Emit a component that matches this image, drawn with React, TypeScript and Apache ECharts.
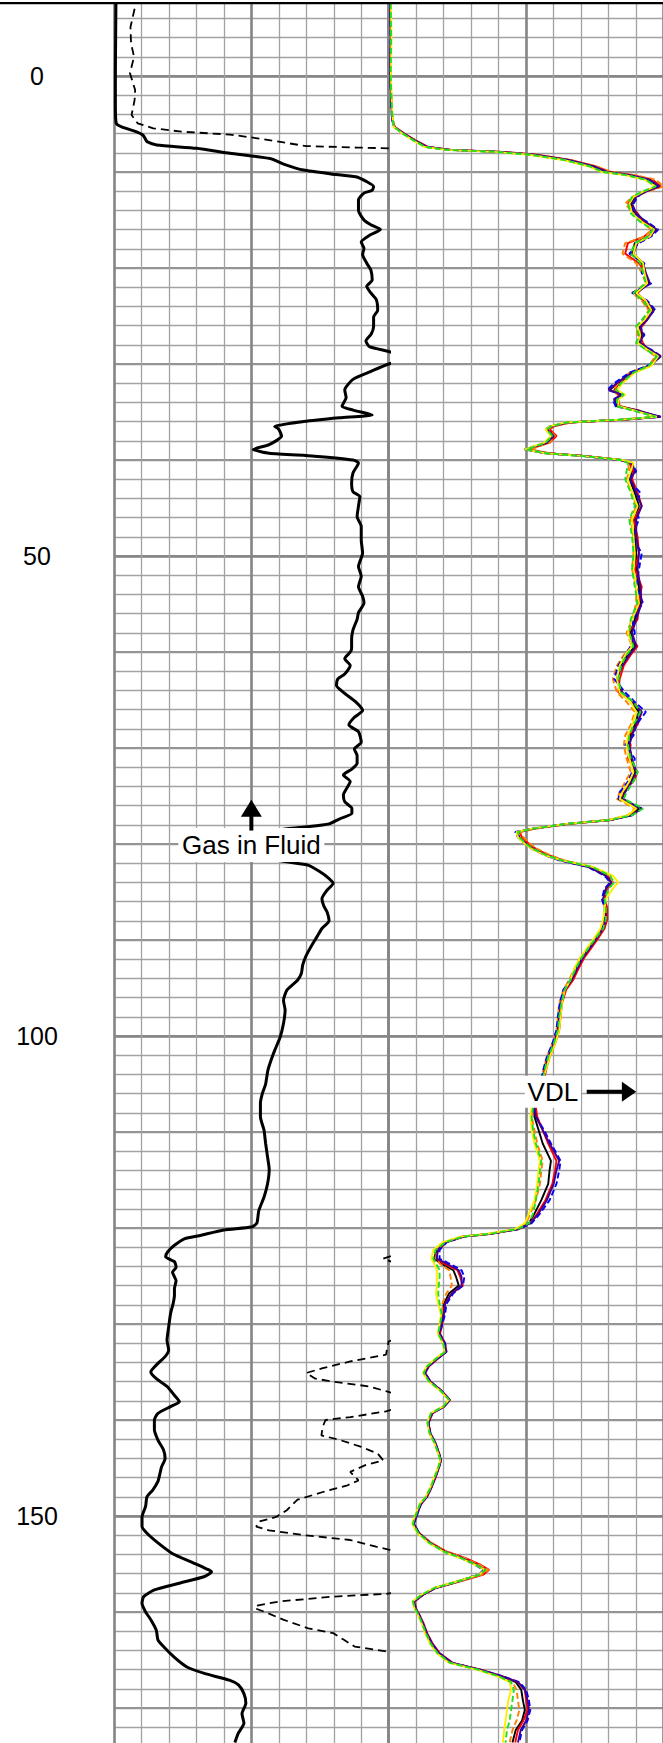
import React, { useEffect, useRef } from "react";
import * as echarts from "echarts";

const W = 663;
const H = 1743;
const FONT = "'Liberation Sans', Arial, Helvetica, sans-serif";

// Depth scale labels shown at the left
const depthLabels = [0, 50, 100, 150];

// Left track, solid curve: [depth, value (0-10 divisions)]
const solidLog: [number, number][] = [
  [-7.6, 0.07], [-4, 0.06], [0, 0.05], [3, 0.05], [4.9, 0.08], [5.3, 0.28], [5.8, 0.8], [6.15, 1.05],
  [6.6, 1.15], [6.84, 1.2], [7.19, 1.55], [7.53, 3.0], [8.05, 4.22], [8.6, 5.68], [9.2, 6.2], [9.8, 6.9],
  [10.2, 7.9], [10.5, 8.8], [11.0, 9.2], [11.5, 9.45], [11.9, 9.4], [12.2, 9.1], [12.9, 8.9], [14.0, 8.9],
  [15.0, 9.1], [15.5, 9.35], [16.0, 9.7], [16.6, 9.3], [17.3, 9.0], [17.95, 9.1], [18.6, 9.05], [19.5, 9.2],
  [20.2, 9.35], [21.25, 9.4], [21.9, 9.2], [22.6, 9.35], [23.3, 9.55], [24.4, 9.6], [25.1, 9.45], [25.6, 9.45],
  [26.1, 9.45], [26.9, 9.36], [27.6, 9.17], [28.2, 9.3], [28.7, 10.0], [29.4, 10.8], [30.0, 10.0], [30.76, 9.36],
  [31.6, 8.7], [32.7, 8.4], [33.5, 8.45], [34.4, 8.3], [34.8, 8.7], [35.3, 9.4], [35.6, 8.2], [36.0, 6.9],
  [36.5, 5.85], [36.8, 6.0], [37.5, 6.1], [38.4, 5.65], [38.9, 5.07], [39.3, 5.65], [39.6, 7.3], [40.0, 8.7],
  [40.3, 8.9], [41.35, 8.7], [42.4, 8.65], [43.3, 8.7], [43.8, 8.95], [44.8, 8.9], [45.9, 8.85], [46.9, 9.0],
  [48.3, 9.0], [49.7, 9.05], [51.1, 8.9], [52.1, 9.0], [53.2, 8.9], [54.2, 9.05], [54.9, 9.1], [55.9, 8.9],
  [56.6, 8.85], [57.7, 8.7], [58.7, 8.65], [59.6, 8.65], [60.0, 8.6], [60.7, 8.4], [61.4, 8.6], [62.3, 8.4],
  [62.8, 8.15], [63.5, 8.1], [64.2, 8.35], [65.2, 8.8], [66.1, 9.05], [66.8, 8.75], [67.6, 8.55], [68.3, 8.9],
  [69.4, 9.0], [70.1, 8.75], [70.8, 8.85], [71.6, 8.85], [72.2, 8.66], [72.8, 8.35], [73.5, 8.6], [74.2, 8.47],
  [74.9, 8.35], [75.6, 8.4], [76.3, 8.66], [76.8, 8.66], [77.4, 8.2], [77.9, 7.83], [78.2, 7.06], [78.4, 6.3],
  [79.2, 4.8], [80.5, 4.5], [81.6, 5.8], [81.9, 6.4], [82.2, 7.06], [82.9, 7.5], [83.6, 7.83], [84.1, 7.98],
  [84.8, 7.76], [85.7, 7.57], [86.4, 7.63], [87.1, 7.76], [88.0, 7.83], [88.8, 7.57], [89.7, 7.38], [90.6, 7.19],
  [91.6, 7.0], [92.6, 6.87], [93.5, 6.82], [94.2, 6.68], [95.2, 6.3], [96.3, 6.17], [97.3, 6.23], [98.7, 6.17],
  [100.1, 6.05], [101.5, 5.85], [102.5, 5.72], [103.6, 5.6], [105.0, 5.52], [106.0, 5.4], [107.0, 5.33], [108.4, 5.33],
  [109.8, 5.46], [111.2, 5.52], [112.6, 5.59], [113.9, 5.65], [115.4, 5.59], [116.8, 5.46], [118.2, 5.27], [119.5, 5.2],
  [119.9, 5.0], [120.2, 4.0], [120.8, 3.1], [121.1, 2.58], [121.8, 2.2], [122.5, 1.95], [123.0, 1.88], [123.5, 2.2],
  [124.1, 2.26], [124.6, 2.13], [125.5, 2.26], [126.3, 2.2], [127.0, 2.2], [127.9, 2.15], [128.9, 2.06], [130.3, 1.99],
  [131.7, 1.93], [132.7, 1.99], [133.4, 1.86], [134.1, 1.6], [135.0, 1.34], [135.7, 1.54], [136.5, 1.93], [137.4, 2.19],
  [138.1, 2.38], [138.6, 2.06], [139.3, 1.6], [140.0, 1.47], [141.0, 1.47], [142.1, 1.6], [143.1, 1.8], [144.0, 1.86],
  [144.9, 1.73], [145.6, 1.67], [146.4, 1.6], [147.3, 1.41], [148.0, 1.2], [149.0, 1.15], [150.1, 1.02], [151.1, 1.02],
  [151.8, 1.2], [152.8, 1.6], [153.9, 2.12], [154.9, 2.9], [155.5, 3.36], [155.8, 3.55], [156.3, 3.3], [157.0, 2.38],
  [157.7, 1.47], [158.4, 1.08], [159.1, 1.02], [160.0, 1.15], [160.8, 1.34], [161.9, 1.54], [162.9, 1.6], [163.6, 1.8],
  [164.7, 2.19], [165.7, 2.64], [166.4, 3.29], [167.1, 4.2], [167.6, 4.53], [168.5, 4.73], [169.5, 4.8], [170.6, 4.66],
  [171.6, 4.73], [172.6, 4.53], [173.6, 4.4],
];

// Left track, dashed curve: [depth, value]; values above 10 run off the track
const dashedLog: [number, number][] = [
  [-7.0, 0.75], [-5.1, 0.6], [-3.4, 0.62], [-2.0, 0.73], [-0.3, 0.58], [1.46, 0.77], [2.5, 0.75], [4.06, 0.64],
  [4.93, 0.86], [5.45, 1.43], [5.8, 2.46], [6.1, 4.22], [6.4, 5.0], [6.8, 5.9], [7.3, 7.0], [7.45, 8.8],
  [7.53, 10.0], [8.0, 11.0], [122.0, 11.0], [122.6, 10.4], [123.2, 9.8], [123.8, 10.4], [124.5, 11.0], [131.0, 11.0],
  [131.8, 10.0], [133.2, 9.9], [133.9, 8.6], [134.6, 7.6], [135.1, 7.0], [135.7, 7.33], [136.0, 7.98], [136.5, 9.28],
  [137.0, 9.9], [137.5, 10.5], [138.6, 10.5], [139.1, 9.9], [139.7, 8.6], [140.0, 7.7], [140.7, 7.6], [141.6, 7.55],
  [142.1, 8.24], [142.8, 9.0], [143.5, 9.6], [144.2, 9.8], [144.7, 9.15], [145.4, 8.6], [146.3, 8.9], [146.8, 8.5],
  [147.5, 7.6], [148.3, 6.68], [149.4, 6.29], [150.1, 5.9], [150.6, 5.25], [151.1, 5.18], [151.5, 5.64], [152.0, 6.94],
  [152.5, 8.6], [153.2, 9.54], [153.5, 10.0], [154.0, 11.0], [157.6, 11.0], [158.1, 9.94], [158.4, 7.98], [158.9, 6.03],
  [159.3, 5.25], [159.6, 5.12], [160.0, 5.5], [160.8, 6.16], [161.7, 7.07], [162.2, 7.98], [162.9, 8.37], [163.6, 8.76],
  [164.1, 9.9], [164.5, 11.0], [173.6, 11.0],
];

// Right track (VDL) – shared depth samples
const vdlDepth = [
  -7.6, -4, 0, 3, 4.5, 5.3, 6.0, 6.7, 7.4, 7.7,
  7.9, 8.2, 8.75, 9.4, 10.0, 10.3, 10.8, 11.5, 12.05, 12.6,
  13.3, 14.3, 15.2, 16.0, 16.7, 17.4, 18.5, 19.5, 20.5, 21.6,
  22.6, 23.4, 24.4, 25.4, 26.1, 27.0, 27.8, 28.5, 29.2, 30.2,
  30.9, 32.0, 32.7, 33.2, 33.7, 34.4, 34.9, 35.5, 35.8, 36.1,
  36.5, 36.8, 37.5, 38.2, 38.9, 39.3, 39.6, 40.0, 40.3, 41.2,
  42.0, 43.4, 44.8, 46.2, 48.0, 49.7, 51.4, 53.2, 54.9, 56.6,
  58.0, 59.4, 60.3, 61.4, 62.8, 64.2, 65.2, 66.25, 67.6, 68.7,
  69.7, 71.1, 72.5, 73.5, 74.6, 75.3, 76.3, 77.0, 77.5, 77.9,
  78.4, 78.75, 79.3, 80.0, 80.5, 81.2, 81.7, 82.4, 83.3, 84.0,
  84.65, 85.7, 86.7, 87.8, 88.8, 89.9, 90.9, 91.9, 93.0, 94.2,
  95.2, 96.6, 98.0, 99.4, 100.8, 102.2, 103.2, 104.5, 106, 107.4,
  108.4, 109.8, 111.2, 113.0, 114.0, 115.4, 117.1, 118.5, 119.5, 120.1,
  120.6, 120.9, 121.5, 122.3, 123.2, 123.7, 124.4, 125.1, 126.0, 126.8,
  127.9, 129.0, 130.0, 131.0, 132.0, 132.9, 133.6, 134.4, 135.1, 136.0,
  136.9, 137.9, 138.6, 139.3, 140.3, 141.4, 142.4, 143.5, 144.2, 144.9,
  145.9, 146.9, 148.0, 148.7, 149.7, 150.8, 151.8, 152.8, 153.7, 154.4,
  155.1, 155.6, 156.1, 156.8, 157.5, 158.2, 158.9, 159.6, 160.3, 161.2,
  162.2, 163.3, 164.3, 165.3, 166.0, 166.7, 167.3, 168.1, 169.2, 170.2,
  171.3, 172.3, 173.6,
];

const vdlBlack = [
  0.06, 0.08, 0.06, 0.1, 0.13, 0.2, 0.55, 0.95, 1.4, 2.2,
  4.0, 5.25, 6.5, 7.4, 7.9, 8.7, 9.46, 9.8, 9.3, 8.95,
  8.8, 8.95, 9.3, 9.7, 9.46, 8.95, 8.85, 9.2, 9.3, 9.46,
  8.95, 9.3, 9.6, 9.33, 9.1, 9.2, 9.1, 9.46, 9.85, 9.46,
  8.8, 8.3, 8.05, 8.45, 8.2, 8.3, 9.1, 9.85, 8.45, 6.5,
  5.9, 5.75, 6.0, 5.75, 5.0, 5.75, 7.15, 8.45, 8.8, 8.85,
  8.75, 8.95, 9.1, 8.95, 8.95, 9.0, 9.0, 9.1, 9.15, 8.95,
  8.8, 8.95, 8.7, 8.45, 8.3, 8.45, 8.8, 9.1, 8.95, 8.8,
  8.7, 8.8, 8.95, 8.8, 8.55, 8.45, 9.1, 8.8, 8.05, 6.5,
  5.25, 4.67, 4.75, 5.0, 5.25, 5.75, 6.27, 7.3, 7.9, 8.1,
  7.9, 7.8, 7.9, 7.9, 7.8, 7.55, 7.3, 7.03, 6.85, 6.65,
  6.4, 6.27, 6.2, 6.15, 6.0, 5.8, 5.7, 5.6, 5.45, 5.3,
  5.3, 5.45, 5.6, 5.9, 5.85, 5.8, 5.55, 5.3, 5.1, 4.7,
  3.7, 2.7, 2.05, 1.73, 1.66, 1.9, 2.35, 2.45, 2.55, 2.2,
  2.0, 1.98, 1.9, 1.82, 2.02, 2.08, 1.76, 1.43, 1.3, 1.5,
  1.89, 2.21, 2.0, 1.56, 1.43, 1.5, 1.69, 1.82, 1.89, 1.82,
  1.69, 1.56, 1.37, 1.17, 1.04, 0.91, 1.1, 1.5, 2.02, 2.67,
  3.19, 3.52, 3.32, 2.54, 1.69, 1.24, 0.91, 0.97, 1.1, 1.24,
  1.37, 1.56, 1.82, 2.28, 3.32, 4.1, 4.62, 4.82, 4.88, 4.95,
  4.85, 4.62, 4.5,
];

const vdlRed = [
  0.06, 0.08, 0.07, 0.1, 0.14, 0.22, 0.57, 0.97, 1.45, 2.3,
  4.2, 5.4, 6.6, 7.5, 8.05, 8.85, 9.6, 9.9, 9.35, 8.9,
  8.7, 9.05, 9.25, 9.6, 9.3, 8.7, 8.6, 9.1, 9.35, 9.4,
  9.05, 9.25, 9.5, 9.4, 9.2, 9.1, 9.25, 9.4, 9.75, 9.5,
  8.9, 8.4, 8.2, 8.35, 8.35, 8.4, 9.15, 9.8, 8.5, 6.6,
  6.0, 5.85, 6.1, 5.85, 5.1, 5.8, 7.2, 8.5, 8.75, 8.9,
  8.85, 9.05, 9.2, 8.9, 9.05, 9.1, 8.95, 9.2, 9.1, 9.05,
  8.7, 9.05, 8.8, 8.55, 8.4, 8.35, 8.9, 9.2, 9.05, 8.7,
  8.8, 8.7, 9.05, 8.9, 8.45, 8.55, 9.0, 8.75, 8.1, 6.6,
  5.3, 4.75, 4.85, 5.1, 5.35, 5.85, 6.35, 7.35, 7.95, 8.15,
  7.95, 7.85, 7.95, 7.95, 7.85, 7.6, 7.35, 7.1, 6.9, 6.7,
  6.45, 6.3, 6.25, 6.2, 6.05, 5.85, 5.75, 5.65, 5.5, 5.35,
  5.4, 5.6, 5.8, 6.1, 6.05, 5.95, 5.7, 5.4, 5.15, 4.75,
  3.75, 2.75, 2.1, 1.8, 1.72, 2.0, 2.5, 2.6, 2.7, 2.3,
  2.05, 2.0, 1.95, 1.87, 2.05, 2.1, 1.8, 1.47, 1.33, 1.52,
  1.9, 2.23, 2.02, 1.6, 1.45, 1.52, 1.7, 1.84, 1.9, 1.84,
  1.72, 1.58, 1.4, 1.2, 1.0, 0.88, 1.12, 1.55, 2.1, 2.8,
  3.35, 3.65, 3.45, 2.6, 1.72, 1.26, 0.95, 0.99, 1.12, 1.27,
  1.4, 1.6, 1.86, 2.33, 3.35, 4.15, 4.7, 4.95, 5.0, 5.05,
  4.9, 4.7, 4.6,
];

const vdlOrange = [
  0.06, 0.08, 0.06, 0.1, 0.14, 0.21, 0.56, 0.98, 1.45, 2.25,
  4.1, 5.35, 6.6, 7.55, 8.1, 8.9, 9.7, 10.0, 9.4, 8.85,
  8.6, 8.9, 9.2, 9.55, 9.35, 8.6, 8.5, 9.0, 9.2, 9.35,
  8.85, 9.2, 9.45, 9.25, 9.0, 9.05, 9.2, 9.35, 9.7, 9.45,
  8.75, 8.35, 8.15, 8.3, 8.3, 8.45, 9.1, 9.75, 8.55, 6.6,
  5.95, 5.8, 6.05, 5.85, 5.15, 5.85, 7.25, 8.4, 8.7, 8.75,
  8.65, 8.85, 9.0, 8.8, 8.9, 8.9, 8.85, 9.0, 9.0, 8.85,
  8.65, 8.85, 8.55, 8.3, 8.15, 8.3, 8.65, 8.95, 8.8, 8.6,
  8.55, 8.65, 8.8, 8.6, 8.4, 8.3, 8.95, 8.7, 8.0, 6.55,
  5.35, 4.8, 4.9, 5.15, 5.4, 5.9, 6.4, 7.4, 8.0, 8.15,
  7.9, 7.8, 7.85, 7.85, 7.75, 7.5, 7.25, 6.95, 6.75, 6.55,
  6.35, 6.2, 6.15, 6.1, 5.95, 5.75, 5.65, 5.55, 5.4, 5.25,
  5.2, 5.3, 5.4, 5.6, 5.55, 5.5, 5.35, 5.15, 5.0, 4.65,
  3.65, 2.65, 2.0, 1.75, 1.72, 1.85, 2.2, 2.25, 2.3, 2.1,
  1.95, 1.95, 1.87, 1.8, 1.98, 2.04, 1.74, 1.42, 1.29, 1.48,
  1.87, 2.18, 1.97, 1.54, 1.42, 1.49, 1.67, 1.8, 1.87, 1.8,
  1.67, 1.54, 1.35, 1.15, 1.02, 0.9, 1.12, 1.55, 2.1, 2.78,
  3.3, 3.62, 3.4, 2.6, 1.72, 1.25, 0.93, 0.98, 1.1, 1.23,
  1.36, 1.54, 1.8, 2.25, 3.28, 4.05, 4.5, 4.65, 4.7, 4.75,
  4.65, 4.5, 4.4,
];

const vdlBlue = [
  0.05, 0.07, 0.06, 0.09, 0.12, 0.19, 0.53, 0.93, 1.38, 2.15,
  3.95, 5.2, 6.45, 7.35, 7.85, 8.65, 9.4, 9.75, 9.25, 9.05,
  8.9, 8.85, 9.4, 9.8, 9.55, 9.1, 8.75, 9.3, 9.2, 9.55,
  8.85, 9.4, 9.7, 9.25, 9.15, 9.3, 9.0, 9.55, 9.9, 9.4,
  8.75, 8.2, 7.95, 8.5, 8.15, 8.25, 9.05, 9.9, 8.4, 6.45,
  5.85, 5.7, 5.95, 5.7, 4.95, 5.7, 7.1, 8.4, 8.85, 9.0,
  8.7, 9.15, 9.0, 9.1, 8.85, 9.2, 9.1, 9.0, 9.25, 8.85,
  8.95, 8.8, 8.6, 8.35, 8.2, 8.6, 8.95, 9.35, 9.0, 8.9,
  8.6, 8.95, 8.85, 8.7, 8.4, 8.35, 9.2, 8.85, 8.0, 6.45,
  5.2, 4.6, 4.7, 4.95, 5.2, 5.7, 6.2, 7.25, 7.85, 8.05,
  7.85, 7.75, 7.85, 7.85, 7.75, 7.5, 7.25, 7.0, 6.8, 6.6,
  6.35, 6.22, 6.15, 6.1, 5.95, 5.75, 5.65, 5.55, 5.4, 5.25,
  5.35, 5.65, 5.9, 6.25, 6.2, 6.1, 5.85, 5.5, 5.2, 4.75,
  3.7, 2.7, 2.1, 1.85, 1.85, 2.2, 2.65, 2.75, 2.7, 2.35,
  2.1, 2.05, 1.95, 1.85, 2.05, 2.1, 1.78, 1.45, 1.32, 1.52,
  1.9, 2.22, 2.02, 1.58, 1.45, 1.52, 1.7, 1.83, 1.9, 1.83,
  1.7, 1.57, 1.38, 1.18, 1.05, 0.92, 1.11, 1.5, 2.0, 2.65,
  3.15, 3.45, 3.28, 2.52, 1.7, 1.25, 0.92, 0.98, 1.11, 1.25,
  1.38, 1.58, 1.84, 2.3, 3.3, 4.15, 4.75, 5.0, 5.1, 5.15,
  5.05, 4.85, 4.75,
];

const vdlIndigo = [
  0.06, 0.08, 0.06, 0.1, 0.13, 0.2, 0.55, 0.95, 1.42, 2.25,
  4.05, 5.3, 6.55, 7.45, 7.95, 8.75, 9.5, 9.85, 9.35, 9.0,
  8.85, 9.0, 9.35, 9.75, 9.5, 9.05, 8.9, 9.25, 9.35, 9.5,
  9.0, 9.35, 9.65, 9.4, 9.15, 9.25, 9.15, 9.5, 9.9, 9.5,
  8.85, 8.3, 8.0, 8.5, 8.2, 8.35, 9.15, 9.9, 8.5, 6.5,
  5.9, 5.75, 6.0, 5.75, 4.95, 5.75, 7.15, 8.45, 8.85, 8.95,
  8.8, 9.0, 9.2, 9.0, 9.0, 9.1, 9.05, 9.15, 9.2, 9.0,
  8.85, 9.0, 8.75, 8.5, 8.3, 8.5, 8.85, 9.2, 9.0, 8.85,
  8.75, 8.85, 9.0, 8.85, 8.6, 8.5, 9.2, 8.85, 8.05, 6.5,
  5.25, 4.65, 4.75, 5.0, 5.25, 5.75, 6.27, 7.3, 7.9, 8.1,
  7.9, 7.8, 7.9, 7.9, 7.8, 7.55, 7.3, 7.05, 6.85, 6.65,
  6.4, 6.27, 6.2, 6.15, 6.0, 5.8, 5.7, 5.6, 5.45, 5.3,
  5.35, 5.6, 5.85, 6.2, 6.1, 6.0, 5.75, 5.45, 5.15, 4.7,
  3.7, 2.7, 2.05, 1.78, 1.75, 2.1, 2.55, 2.65, 2.65, 2.3,
  2.05, 2.0, 1.92, 1.84, 2.03, 2.09, 1.77, 1.44, 1.31, 1.51,
  1.89, 2.22, 2.01, 1.57, 1.44, 1.51, 1.7, 1.83, 1.9, 1.83,
  1.7, 1.57, 1.38, 1.18, 1.05, 0.92, 1.1, 1.5, 2.03, 2.68,
  3.2, 3.5, 3.3, 2.55, 1.7, 1.25, 0.92, 0.98, 1.1, 1.25,
  1.38, 1.57, 1.83, 2.3, 3.3, 4.12, 4.7, 4.95, 5.05, 5.1,
  5.0, 4.8, 4.7,
];

const vdlYellow = [
  0.08, 0.1, 0.08, 0.12, 0.15, 0.18, 0.5, 0.88, 1.3, 2.1,
  3.85, 5.1, 6.35, 7.25, 7.75, 8.55, 9.3, 9.7, 9.25, 8.9,
  8.75, 8.85, 9.2, 9.65, 9.5, 9.0, 8.9, 9.25, 9.3, 9.4,
  9.0, 9.35, 9.55, 9.3, 9.05, 9.15, 9.05, 9.4, 9.8, 9.55,
  8.95, 8.5, 8.3, 8.6, 8.35, 8.35, 9.0, 9.75, 8.4, 6.4,
  5.85, 5.7, 5.9, 5.65, 4.95, 5.7, 7.1, 8.5, 8.9, 8.8,
  8.7, 8.85, 9.05, 8.85, 8.9, 8.95, 8.9, 9.0, 9.1, 8.85,
  8.7, 8.85, 8.6, 8.4, 8.3, 8.4, 8.8, 9.0, 8.85, 8.7,
  8.65, 8.75, 8.9, 8.75, 8.5, 8.4, 9.0, 8.7, 8.0, 6.45,
  5.2, 4.65, 4.7, 4.95, 5.2, 5.7, 6.3, 7.45, 8.15, 8.35,
  8.15, 7.9, 7.85, 7.8, 7.7, 7.45, 7.2, 6.95, 6.75, 6.6,
  6.4, 6.3, 6.25, 6.2, 6.05, 5.85, 5.75, 5.6, 5.35, 5.2,
  5.15, 5.2, 5.3, 5.5, 5.45, 5.4, 5.3, 5.1, 4.95, 4.6,
  3.6, 2.6, 1.95, 1.62, 1.55, 1.65, 1.75, 1.75, 1.75, 1.72,
  1.8, 1.9, 1.85, 1.78, 1.97, 2.03, 1.7, 1.38, 1.25, 1.45,
  1.85, 2.18, 1.97, 1.52, 1.4, 1.48, 1.66, 1.8, 1.87, 1.8,
  1.66, 1.53, 1.34, 1.13, 0.99, 0.85, 1.05, 1.45, 1.98, 2.62,
  3.15, 3.5, 3.3, 2.5, 1.64, 1.18, 0.86, 0.93, 1.06, 1.2,
  1.32, 1.5, 1.75, 2.2, 3.2, 3.95, 4.4, 4.45, 4.35, 4.3,
  4.25, 4.2, 4.15,
];

const vdlGreen = [
  0.07, 0.09, 0.07, 0.11, 0.14, 0.19, 0.51, 0.9, 1.33, 2.12,
  3.9, 5.15, 6.4, 7.3, 7.8, 8.6, 9.35, 9.72, 9.2, 8.85,
  8.7, 8.8, 9.15, 9.6, 9.45, 8.95, 8.8, 9.15, 9.25, 9.35,
  8.9, 9.25, 9.5, 9.2, 9.0, 9.1, 9.0, 9.35, 9.75, 9.45,
  8.9, 8.45, 8.25, 8.55, 8.3, 8.3, 8.95, 9.7, 8.35, 6.45,
  5.9, 5.75, 5.95, 5.7, 5.0, 5.7, 7.1, 8.45, 8.7, 8.65,
  8.6, 8.8, 8.95, 8.75, 8.85, 8.9, 8.85, 8.95, 9.05, 8.8,
  8.75, 8.9, 8.65, 8.45, 8.35, 8.45, 8.9, 9.15, 8.9, 8.75,
  8.7, 8.8, 9.05, 8.9, 8.65, 8.55, 9.25, 8.85, 8.05, 6.5,
  5.25, 4.7, 4.75, 5.0, 5.25, 5.75, 6.3, 7.4, 8.05, 8.2,
  8.0, 7.85, 7.9, 7.9, 7.8, 7.5, 7.25, 7.0, 6.8, 6.6,
  6.4, 6.28, 6.2, 6.15, 6.0, 5.8, 5.7, 5.6, 5.4, 5.25,
  5.2, 5.25, 5.35, 5.55, 5.5, 5.45, 5.35, 5.25, 5.1, 4.7,
  3.7, 2.7, 2.05, 1.7, 1.62, 1.72, 1.85, 1.85, 1.82, 1.8,
  1.85, 1.93, 1.87, 1.8, 1.98, 2.05, 1.73, 1.4, 1.27, 1.47,
  1.87, 2.2, 1.98, 1.54, 1.41, 1.49, 1.67, 1.81, 1.88, 1.81,
  1.68, 1.55, 1.36, 1.15, 1.01, 0.88, 1.08, 1.48, 2.0, 2.65,
  3.18, 3.52, 3.32, 2.52, 1.66, 1.2, 0.88, 0.95, 1.08, 1.22,
  1.35, 1.53, 1.78, 2.24, 3.25, 4.0, 4.45, 4.55, 4.5, 4.45,
  4.4, 4.3, 4.25,
];

const vdlTraces = [
  { name: "VDL black", color: "#000000", dash: "solid", values: vdlBlack },
  { name: "VDL red", color: "#ff0000", dash: "solid", values: vdlRed },
  { name: "VDL orange", color: "#ff8000", dash: [6, 3], values: vdlOrange },
  { name: "VDL blue", color: "#0000ff", dash: [6, 3], values: vdlBlue },
  { name: "VDL indigo", color: "#400090", dash: "solid", values: vdlIndigo },
  { name: "VDL yellow", color: "#ffee00", dash: "solid", values: vdlYellow },
  { name: "VDL green", color: "#22dd22", dash: [6, 3], values: vdlGreen },
];

// Annotations (track units and depths)
const gasNote = { text: "Gas in Fluid", value: 5.0, depth: 80.1, tip: 75.4, head: 77.15, tail: 78.6 };
const vdlNote = { text: "VDL", value: 5.97, depth: 105.8, from: 7.2, head: 8.48, to: 9.0 };

const MINOR = "#a2a2a2";
const MEDIUM = "#939393";
const HEAVY = "#868686";
const NONE = "rgba(0,0,0,0)";

// The chart canvas is taller than the page and shifted up, so that depth -10 sits 20px above the page top
const SHIFT = 20;
const CH = 1824;

function xAxes(gridIndex: number) {
  const base = {
    type: "value", gridIndex, min: 0, max: 10, position: "bottom",
    axisLine: { show: false }, axisTick: { show: false }, axisLabel: { show: false },
  };
  return [
    { ...base, interval: 1, splitLine: { show: true, lineStyle: { color: MINOR, width: 1.3 } } },
    { ...base, interval: 5, splitLine: { show: true, lineStyle: { color: HEAVY, width: 2.6 } } },
  ];
}

function yAxes(gridIndex: number, withLabels: boolean) {
  const base = {
    type: "value", gridIndex, min: -10, max: 180, inverse: true, position: "left", offset: 0,
    axisLine: { show: false }, axisTick: { show: false }, axisLabel: { show: false },
  };
  return [
    { ...base, interval: 2, splitLine: { show: true, lineStyle: { color: MINOR, width: 1.3 } } },
    {
      ...base, interval: 10,
      splitLine: { show: true, lineStyle: { color: MEDIUM, width: 1.8 } },
      axisLabel: withLabels
        ? {
            show: true, margin: 77, align: "center", verticalAlign: "middle",
            fontSize: 25, color: "#000", fontFamily: FONT,
            formatter: (v: number) => (depthLabels.indexOf(v) >= 0 ? String(v) : ""),
          }
        : { show: false },
    },
    {
      ...base, interval: 10,
      splitLine: { show: true, lineStyle: { color: [NONE, HEAVY, NONE, NONE, NONE], width: 2.6 } },
    },
  ];
}

export default function App() {
  const ref = useRef<HTMLDivElement>(null);

  useEffect(() => {
    if (!ref.current) return;
    const chart = echarts.init(ref.current, null, { renderer: "svg" });

    const series: any[] = [
      {
        name: "Dashed", type: "line", xAxisIndex: 0, yAxisIndex: 0,
        data: dashedLog.map(([d, v]) => [v, d]),
        showSymbol: false, clip: true, z: 3,
        lineStyle: { color: "#000", width: 1.8, type: [8, 5] },
      },
      {
        name: "Solid", type: "line", xAxisIndex: 0, yAxisIndex: 0,
        data: solidLog.map(([d, v]) => [v, d]),
        showSymbol: false, clip: true, smooth: 0.2, z: 4,
        lineStyle: { color: "#000", width: 3 },
      },
      ...vdlTraces.map((t) => ({
        name: t.name, type: "line", xAxisIndex: 2, yAxisIndex: 3,
        data: vdlDepth.map((d, i) => [t.values[i], d]),
        showSymbol: false, clip: true, z: 3,
        lineStyle: { color: t.color, width: 1.9, type: t.dash },
      })),
    ];

    chart.setOption({
      animation: false,
      backgroundColor: "#ffffff",
      grid: [
        { left: 114, top: 0, width: 274.7, height: CH, outerBoundsMode: "none", containLabel: false },
        { left: 388.7, top: 0, width: 275, height: CH, outerBoundsMode: "none", containLabel: false },
      ],
      xAxis: [...xAxes(0), ...xAxes(1)],
      yAxis: [...yAxes(0, true), ...yAxes(1, false)],
      series,
    });

    const px = (si: number, v: number, d: number) =>
      chart.convertToPixel({ seriesIndex: si }, [v, d]) as number[];

    const [gx, gy] = px(1, gasNote.value, gasNote.depth);
    const [ax, tipY] = px(1, gasNote.value, gasNote.tip);
    const [, headY] = px(1, gasNote.value, gasNote.head);
    const [, tailY] = px(1, gasNote.value, gasNote.tail);

    const [vx, vy] = px(2, vdlNote.value, vdlNote.depth);
    const [fromX] = px(2, vdlNote.from, vdlNote.depth);
    const [headX] = px(2, vdlNote.head, vdlNote.depth);
    const [toX] = px(2, vdlNote.to, vdlNote.depth);

    const [, topY] = px(1, 0, -7.6);

    chart.setOption({
      graphic: [
        { type: "rect", z: 100, shape: { x: 0, y: 0, width: W, height: topY }, style: { fill: "#fff" } },
        { type: "line", z: 101, shape: { x1: 0, y1: topY, x2: W, y2: topY }, style: { stroke: "#000", lineWidth: 2.2 } },
        { type: "rect", z: 100, shape: { x: gx - 73, y: gy - 17, width: 146, height: 34 }, style: { fill: "#fff" } },
        {
          type: "text", z: 101, x: gx, y: gy,
          style: { text: gasNote.text, fontSize: 26, fontFamily: FONT, fill: "#000", align: "center", verticalAlign: "middle" },
        },
        { type: "polygon", z: 101, shape: { points: [[ax, tipY], [ax - 10.5, headY], [ax + 10.5, headY]] }, style: { fill: "#000" } },
        { type: "rect", z: 101, shape: { x: ax - 2, y: headY - 1, width: 4, height: tailY - headY + 1 }, style: { fill: "#000" } },
        { type: "rect", z: 100, shape: { x: vx - 28, y: vy - 16, width: 56, height: 32 }, style: { fill: "#fff" } },
        {
          type: "text", z: 101, x: vx, y: vy,
          style: { text: vdlNote.text, fontSize: 26, fontFamily: FONT, fill: "#000", align: "center", verticalAlign: "middle" },
        },
        { type: "rect", z: 101, shape: { x: fromX, y: vy - 2, width: headX - fromX + 1, height: 4 }, style: { fill: "#000" } },
        { type: "polygon", z: 101, shape: { points: [[toX, vy], [headX, vy - 10], [headX, vy + 10]] }, style: { fill: "#000" } },
      ],
    });

    return () => chart.dispose();
  }, []);

  return (
    <div style={{ position: "absolute", left: 0, top: 0, width: W, height: H, overflow: "hidden", background: "#fff" }}>
      <div
        ref={ref}
        style={{ position: "absolute", left: 0, top: -SHIFT, width: W, height: CH }}
      />
    </div>
  );
}
